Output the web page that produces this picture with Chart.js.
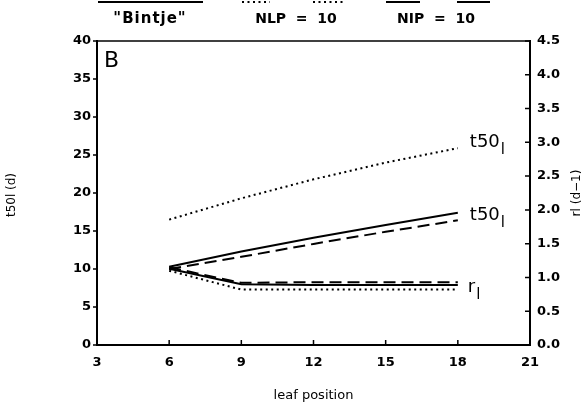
<!DOCTYPE html>
<html>
<head>
<meta charset="utf-8">
<script src="https://cdn.jsdelivr.net/npm/chart.js@4.4.1/dist/chart.umd.min.js"></script>
<style>
  html, body { margin: 0; padding: 0; background: #fff; }
  canvas { display: block; }
</style>
</head>
<body>
<canvas id="leaf-chart" width="585" height="409"></canvas>
<script>
// Leaf positions and values per genotype
const leafPositions = [6, 9, 12, 15, 18];

// t50l (d), left axis
const t50Bintje = [10.3, 12.3, 14.1, 15.8, 17.4];
const t50Nip = [10.0, 11.6, 13.3, 14.9, 16.4];
const t50Nlp = [16.5, 19.3, 21.8, 24.0, 25.9];

// rl (d-1), right axis
const rBintje = [1.13, 0.90, 0.89, 0.89, 0.89];
const rNip = [1.15, 0.92, 0.93, 0.93, 0.93];
const rNlp = [1.10, 0.82, 0.82, 0.82, 0.82];

const xTicks = [3, 6, 9, 12, 15, 18, 21];

const INK = '#000';
const tickFont = { family: 'DejaVu Sans', size: 13, weight: 'bold' };
const DOTTED = [2, 3.5];
const DASHED = [12, 6];

function toPoints(values) {
  return leafPositions.map((x, i) => ({ x: x, y: values[i] }));
}

function series(label, values, axis, dash) {
  return {
    label: label,
    data: toPoints(values),
    yAxisID: axis,
    borderColor: INK,
    borderWidth: 2,
    borderDash: dash,
    borderCapStyle: 'butt',
    pointRadius: 0,
    tension: 0,
    fill: false
  };
}

// Text, legend and tick marks drawn on top of the chart
const decorations = {
  id: 'decorations',
  afterDraw(chart) {
    const ctx = chart.ctx;
    const area = chart.chartArea;
    const x = chart.scales.x;
    const y = chart.scales.y;
    const y1 = chart.scales.y1;

    ctx.save();
    ctx.strokeStyle = INK;
    ctx.fillStyle = INK;

    // top frame
    ctx.lineWidth = 1.5;
    ctx.beginPath();
    ctx.moveTo(area.left, area.top);
    ctx.lineTo(area.right, area.top);
    ctx.stroke();

    // tick marks
    ctx.lineWidth = 1.5;
    ctx.beginPath();
    xTicks.forEach(v => {
      const px = x.getPixelForValue(v);
      ctx.moveTo(px, area.bottom);
      ctx.lineTo(px, area.bottom - 5);
    });
    y.ticks.forEach(t => {
      const py = y.getPixelForValue(t.value);
      ctx.moveTo(area.left, py);
      ctx.lineTo(area.left - 4, py);
    });
    y1.ticks.forEach(t => {
      const py = y1.getPixelForValue(t.value);
      ctx.moveTo(area.right, py);
      ctx.lineTo(area.right - 5, py);
    });
    ctx.stroke();

    // panel letter
    ctx.font = '22px "DejaVu Sans"';
    ctx.textAlign = 'left';
    ctx.textBaseline = 'alphabetic';
    ctx.fillText('B', 104, 67);

    // axis titles
    ctx.font = '13px "DejaVu Sans"';
    ctx.textAlign = 'center';
    ctx.textBaseline = 'middle';
    ctx.fillText('leaf position', (area.left + area.right) / 2, 396);

    ctx.font = '12px "DejaVu Sans"';
    ctx.save();
    ctx.translate(12, 195);
    ctx.rotate(-Math.PI / 2);
    ctx.fillText('t50l (d)', 0, 0);
    ctx.restore();
    ctx.save();
    ctx.translate(577, 193);
    ctx.rotate(-Math.PI / 2);
    ctx.fillText('rl (d\u22121)', 0, 0);
    ctx.restore();

    // line end labels with subscript l
    function endLabel(text, px, py) {
      ctx.font = '18px "DejaVu Sans"';
      ctx.textAlign = 'left';
      ctx.textBaseline = 'alphabetic';
      ctx.fillText(text, px, py);
      const w = ctx.measureText(text).width;
      ctx.font = '15px "DejaVu Sans"';
      ctx.fillText('l', px + w + 1, py + 7);
    }
    const last = leafPositions.length - 1;
    const labelX = x.getPixelForValue(leafPositions[last]) + 12;
    endLabel('t50', labelX, y.getPixelForValue(t50Nlp[last]) - 1);
    endLabel('t50', labelX, y.getPixelForValue(t50Bintje[last]) + 7);
    endLabel('r', labelX - 2, y1.getPixelForValue(rBintje[last]) + 7);

    // legend strip along the top
    ctx.lineWidth = 2;
    ctx.beginPath();
    ctx.moveTo(98, 2); ctx.lineTo(203, 2);
    ctx.stroke();
    ctx.setLineDash(DOTTED);
    ctx.beginPath();
    ctx.moveTo(242, 2); ctx.lineTo(270, 2);
    ctx.moveTo(313, 2); ctx.lineTo(345, 2);
    ctx.stroke();
    ctx.setLineDash([]);
    ctx.beginPath();
    ctx.moveTo(386, 2); ctx.lineTo(420, 2);
    ctx.moveTo(457, 2); ctx.lineTo(490, 2);
    ctx.stroke();

    ctx.font = 'bold 15px "DejaVu Sans"';
    ctx.textAlign = 'center';
    ctx.textBaseline = 'middle';
    ctx.letterSpacing = '1px';
    ctx.fillText('"Bintje"', 150, 19);
    ctx.letterSpacing = '0px';
    ctx.font = 'bold 14px "DejaVu Sans"';
    ctx.fillText('NLP  =  10', 296, 19);
    ctx.fillText('NIP  =  10', 436, 19);

    ctx.restore();
  }
};

new Chart(document.getElementById('leaf-chart'), {
  type: 'line',
  data: {
    datasets: [
      series('t50 Bintje', t50Bintje, 'y', []),
      series('t50 NIP', t50Nip, 'y', DASHED),
      series('t50 NLP', t50Nlp, 'y', DOTTED),
      series('r Bintje', rBintje, 'y1', []),
      series('r NIP', rNip, 'y1', DASHED),
      series('r NLP', rNlp, 'y1', DOTTED)
    ]
  },
  options: {
    responsive: false,
    animation: false,
    devicePixelRatio: 1,
    layout: { padding: { top: 41, left: 0, right: 0, bottom: 0 } },
    plugins: {
      legend: { display: false },
      tooltip: { enabled: false }
    },
    scales: {
      x: {
        type: 'linear',
        min: 3,
        max: 21,
        afterBuildTicks: s => { s.ticks = xTicks.map(v => ({ value: v })); },
        ticks: { color: INK, font: tickFont, padding: 10, maxRotation: 0 },
        grid: { display: false, drawTicks: false },
        border: { display: true, color: INK, width: 2 },
        afterFit: s => { s.height = 64; }
      },
      y: {
        position: 'left',
        min: 0,
        max: 40,
        ticks: { stepSize: 5, color: INK, font: tickFont, padding: 6 },
        grid: { display: false, drawTicks: false },
        border: { display: true, color: INK, width: 2 },
        afterFit: s => { s.width = 97; }
      },
      y1: {
        position: 'right',
        min: 0,
        max: 4.5,
        ticks: {
          stepSize: 0.5,
          color: INK,
          font: tickFont,
          padding: 7,
          callback: v => Number(v).toFixed(1)
        },
        grid: { display: false, drawTicks: false },
        border: { display: true, color: INK, width: 2 },
        afterFit: s => { s.width = 55; }
      }
    }
  },
  plugins: [decorations]
});
</script>
</body>
</html>
